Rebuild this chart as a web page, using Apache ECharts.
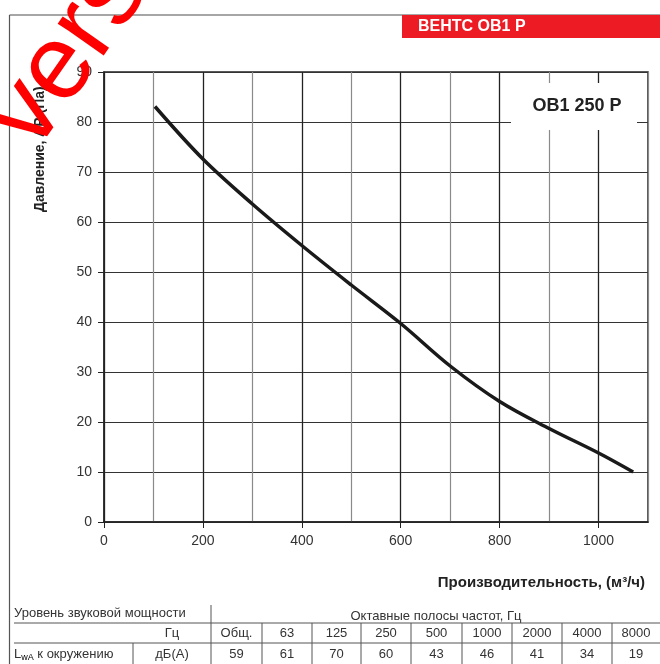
<!DOCTYPE html>
<html>
<head>
<meta charset="utf-8">
<script src="https://cdn.jsdelivr.net/npm/echarts@6/dist/echarts.min.js"></script>
<style>
html,body{margin:0;padding:0;background:#fff;}
#chart{width:660px;height:664px;}
</style>
</head>
<body>
<div id="chart"></div>
<script>
// ---- data ----
const flowValues = [103, 200, 300, 400, 500, 600, 700, 800, 900, 1000, 1070];
const pressureValues = [83.1, 72.6, 63.6, 55.3, 47.4, 39.7, 31.2, 24.1, 18.7, 13.8, 10];
const xTickLabels = [0, 200, 400, 600, 800, 1000];
const yTickLabels = [0, 10, 20, 30, 40, 50, 60, 70, 80, 90];
const bands = ['Общ.', '63', '125', '250', '500', '1000', '2000', '4000', '8000'];
const soundLevels = [59, 61, 70, 60, 43, 46, 41, 34, 19];
const headerTitle = 'ВЕНТС ОВ1 Р';
const modelName = 'ОВ1 250 Р';
const xName = 'Производительность, (м³/ч)';
const yName = 'Давление, ΔP (Па)';

const FONT = '"Liberation Sans", Arial, sans-serif';
const chart = echarts.init(document.getElementById('chart'), null, {renderer: 'canvas'});

const curve = flowValues.map((x, i) => [x, pressureValues[i]]);

// table graphics
const colX = [211, 262, 312, 361, 411, 462, 512, 562, 612, 660];
const tableG = [];
const lineStyle = {stroke: '#555', lineWidth: 1};
const tcolor = '#333';
tableG.push({type: 'text', left: 14, top: 607, style: {text: 'Уровень звуковой мощности', font: '13px ' + FONT, fill: tcolor}});
tableG.push({type: 'text', x: 436, y: 616, style: {text: 'Октавные полосы частот, Гц', font: '13px ' + FONT, fill: tcolor, align: 'center', verticalAlign: 'middle'}});
tableG.push({type: 'line', shape: {x1: 14, y1: 623, x2: 660, y2: 623}, style: lineStyle});
tableG.push({type: 'line', shape: {x1: 14, y1: 643, x2: 660, y2: 643}, style: lineStyle});
tableG.push({type: 'line', shape: {x1: 211, y1: 605, x2: 211, y2: 664}, style: lineStyle});
tableG.push({type: 'line', shape: {x1: 133, y1: 643, x2: 133, y2: 664}, style: lineStyle});
tableG.push({type: 'text', x: 172, y: 633, style: {text: 'Гц', font: '13px ' + FONT, fill: tcolor, align: 'center', verticalAlign: 'middle'}});
tableG.push({type: 'text', x: 172, y: 654, style: {text: 'дБ(А)', font: '13px ' + FONT, fill: tcolor, align: 'center', verticalAlign: 'middle'}});
tableG.push({type: 'text', x: 14, y: 654, style: {
  text: '{a|L}{s|wA}{a| к окружению}', verticalAlign: 'middle',
  rich: {a: {font: '13px ' + FONT, fill: tcolor, color: tcolor}, s: {font: '9px ' + FONT, color: tcolor, padding: [8, 0, 0, 0]}}
}});
for (let i = 0; i < bands.length; i++) {
  const cx = (colX[i] + colX[i + 1]) / 2;
  if (i > 0) tableG.push({type: 'line', shape: {x1: colX[i], y1: 623, x2: colX[i], y2: 664}, style: lineStyle});
  tableG.push({type: 'text', x: cx, y: 633, style: {text: bands[i], font: '13px ' + FONT, fill: tcolor, align: 'center', verticalAlign: 'middle'}});
  tableG.push({type: 'text', x: cx, y: 654, style: {text: String(soundLevels[i]), font: '13px ' + FONT, fill: tcolor, align: 'center', verticalAlign: 'middle'}});
}

const option = {
  backgroundColor: '#fff',
  animation: false,
  grid: {left: 104, right: 12, top: 72, bottom: 142, show: true, borderColor: '#222', borderWidth: 1.5, backgroundColor: 'transparent'},
  xAxis: [{
    type: 'value', min: 0, max: 1100, interval: 100, z: 3,
    axisLine: {show: true, lineStyle: {color: '#222', width: 1.5}},
    axisTick: {show: true, length: 6, customValues: xTickLabels, lineStyle: {color: '#222', width: 1}},
    axisLabel: {customValues: xTickLabels, formatter: v => String(v), color: '#333', fontSize: 14, fontFamily: FONT, margin: 12},
    splitLine: {show: true, lineStyle: {color: '#222', width: 1.2}}
  }, {
    type: 'value', min: 0, max: 1100, interval: 100, position: 'bottom', z: 1,
    axisLine: {show: false}, axisTick: {show: false}, axisLabel: {show: false},
    splitLine: {show: true, lineStyle: {color: '#8a8a8a', width: 1.2}}
  }],
  yAxis: {
    type: 'value', min: 0, max: 90, interval: 10,
    axisLine: {show: true, lineStyle: {color: '#222', width: 1.5}},
    axisTick: {show: true, length: 6, lineStyle: {color: '#222', width: 1}},
    axisLabel: {color: '#333', fontSize: 14, fontFamily: FONT, margin: 12},
    splitLine: {show: true, lineStyle: {color: '#333', width: 1.2}}
  },
  series: [{
    type: 'line', data: curve, smooth: 0.35, showSymbol: false, symbol: 'none',
    lineStyle: {color: '#1a1a1a', width: 3.5}, z: 5
  }],
  graphic: [
    {type: 'line', shape: {x1: 9.5, y1: 15, x2: 660, y2: 15}, style: {stroke: '#888', lineWidth: 1.5}},
    {type: 'line', shape: {x1: 9.5, y1: 15, x2: 9.5, y2: 664}, style: {stroke: '#555', lineWidth: 1.2}},
    {type: 'rect', shape: {x: 402, y: 15, width: 258, height: 23}, style: {fill: '#ed1c24'}},
    {type: 'text', x: 418, y: 27, style: {text: headerTitle, font: 'bold 16px ' + FONT, fill: '#fff', verticalAlign: 'middle'}},
    {type: 'rect', shape: {x: 511, y: 83, width: 126, height: 47}, style: {fill: '#fff'}, z: 10},
    {type: 'text', x: 577, y: 106, z: 11, style: {text: modelName, font: 'bold 18px ' + FONT, fill: '#222', align: 'center', verticalAlign: 'middle'}},
    {type: 'text', x: 645, y: 583, style: {text: xName, font: 'bold 15px ' + FONT, fill: '#222', align: 'right', verticalAlign: 'middle'}},
    {type: 'text', x: 40, y: 212, rotation: Math.PI / 2, style: {text: yName, font: 'bold 14px ' + FONT, fill: '#222', align: 'left', verticalAlign: 'middle'}},
    {type: 'text', x: -32, y: 106, rotation: 55 * Math.PI / 180, z: 100, style: {text: 'version', font: '106px ' + FONT, fill: '#ff0000', align: 'left', verticalAlign: 'alphabetic'}}
  ].concat(tableG)
};
chart.setOption(option);
</script>
</body>
</html>
